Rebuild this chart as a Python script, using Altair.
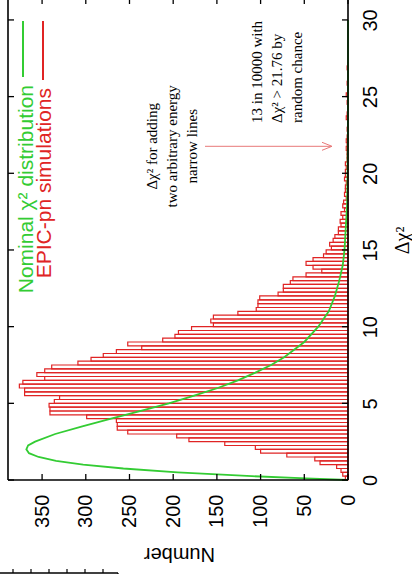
import altair as alt
import pandas as pd

# Histogram of simulated delta-chi^2 (bin width 0.25), counts
counts = [3, 6, 8, 13, 32, 38, 70, 100, 106, 141,
          182, 196, 252, 264, 264, 265, 299, 341, 341, 342,
          336, 330, 370, 370, 376, 372, 347, 356, 347, 339,
          309, 294, 280, 265, 236, 252, 212, 198, 194, 179,
          154, 157, 154, 126, 105, 103, 103, 101, 80, 74,
          74, 66, 63, 48, 30, 40, 48, 40, 28, 25,
          19, 21, 17, 15, 11, 11, 8, 9, 6, 8,
          4, 6, 5, 2, 4, 3, 3, 2, 4, 3,
          3, 2, 3, 1, 1, 1, 2, 1, 2, 1,
          0, 1, 0, 0, 2, 1, 0, 0, 1, 0,
          2, 0, 0, 1, 0, 0, 0, 1, 0]
bin_width = 0.25
bin_lo = [round(i * bin_width, 2) for i in range(len(counts))]
bin_hi = [round((i + 1) * bin_width, 2) for i in range(len(counts))]

# Nominal chi^2 distribution curve
curve_chi = [0, 0.1, 0.25, 0.5, 0.75, 1.0, 1.25, 1.5, 1.75, 2.0, 2.25, 2.5, 3.0, 3.5,
             4.0, 4.5, 5.0, 5.5, 6.0, 6.5, 7.0, 7.5, 8.0, 9.0, 10.0, 11.0, 12.0,
             13.0, 14.0, 15.0, 16.0, 17.0, 18.0, 20.0, 22.0, 25.0, 30.0]
curve_n = [0, 48, 110, 195, 257, 303, 334, 354, 365, 368, 366, 358, 335, 304,
           271, 237, 205, 176, 149, 126, 106, 88, 73, 50, 34, 22, 15,
           10, 6, 4, 3, 2, 1, 0.5, 0.2, 0, 0]

num_ticks = [0, 50, 100, 150, 200, 250, 300, 350]
chi_ticks = [0, 5, 10, 15, 20, 25, 30]
threshold = [21.76]

RED = "#e02424"
GREEN = "#33cc33"
ARROW = "#e87878"
W, H = 340, 480

hist_df = pd.DataFrame({"chi": bin_lo, "hi": bin_hi, "n": counts, "zero": [0] * len(counts)})
curve_df = pd.DataFrame({"chi": curve_chi, "n": curve_n})
nt_df = pd.DataFrame({"n": num_ticks})
ct_df = pd.DataFrame({"chi": chi_ticks})
thr_df = pd.DataFrame({"chi": threshold})
one = pd.DataFrame({"a": [0]})

xscale = alt.Scale(domain=[0, 389], reverse=True, nice=False, zero=False)
yscale = alt.Scale(domain=[0, 31.3], nice=False, zero=False)

xaxis = alt.Axis(values=num_ticks, ticks=False, domain=False, grid=False,
                 labelAngle=270, labelAlign="right", labelBaseline="middle",
                 labelPadding=14, labelFont="Liberation Sans", labelFontSize=20,
                 labelColor="black", labelFlush=False, labelOverlap=False,
                 title="Number", titleFont="Liberation Sans", titleFontSize=20,
                 titleFontWeight="normal", titleColor="black", titleAngle=180,
                 titleX=171, titleY=67, titleAlign="center", titleBaseline="alphabetic")
yaxis = alt.Axis(orient="right", values=chi_ticks, ticks=False, domain=False, grid=False,
                 labelAngle=270, labelAlign="center", labelBaseline="top",
                 labelPadding=12, labelFont="Liberation Sans", labelFontSize=20,
                 labelColor="black", labelFlush=False, labelOverlap=False,
                 title="Δχ²", titleFont="Liberation Serif", titleFontSize=20,
                 titleFontWeight="normal", titleColor="black", titleAngle=270,
                 titleX=60, titleY=240, titleAlign="center", titleBaseline="alphabetic")


def X(field):
    return alt.X(field, type="quantitative", scale=xscale, axis=xaxis, title="Number")


def Y(field):
    return alt.Y(field, type="quantitative", scale=yscale, axis=yaxis, title="Δχ²")


bars = alt.Chart(hist_df).mark_rect(fillOpacity=0, stroke=RED, strokeWidth=1.2).encode(
    x=X("n"), x2="zero:Q", y=Y("chi"), y2="hi:Q",
)

curve = alt.Chart(curve_df).mark_line(color=GREEN, strokeWidth=1.8).encode(
    x=X("n"), y=Y("chi"), order="chi:Q",
)

tick_style = dict(color="black", strokeWidth=1.3)
tb = alt.Chart(nt_df).mark_rule(**tick_style).encode(x=X("n"), y=alt.value(H), y2=alt.value(H - 6))
tt = alt.Chart(nt_df).mark_rule(**tick_style).encode(x=X("n"), y=alt.value(0), y2=alt.value(4))
tr = alt.Chart(ct_df).mark_rule(**tick_style).encode(y=Y("chi"), x=alt.value(W), x2=alt.value(W - 6))
tl = alt.Chart(ct_df).mark_rule(**tick_style).encode(y=Y("chi"), x=alt.value(0), x2=alt.value(6))

frame_style = dict(color="black", strokeWidth=1.6)
fl = alt.Chart(one).mark_rule(**frame_style).encode(x=alt.value(0), y=alt.value(0), y2=alt.value(H))
fr = alt.Chart(one).mark_rule(**frame_style).encode(x=alt.value(W), y=alt.value(0), y2=alt.value(H))
fb = alt.Chart(one).mark_rule(**frame_style).encode(y=alt.value(H), x=alt.value(0), x2=alt.value(W))

# legend (rotated)
lg_line = alt.Chart(one).mark_rule(color=GREEN, strokeWidth=2).encode(
    x=alt.value(15), y=alt.value(21), y2=alt.value(77))
lr_line = alt.Chart(one).mark_rule(color=RED, strokeWidth=2).encode(
    x=alt.value(35), y=alt.value(21), y2=alt.value(80))
lg_text = alt.Chart(one).mark_text(text="Nominal χ² distribution", angle=270, align="right",
                                   baseline="alphabetic", font="Liberation Sans", fontSize=21,
                                   color=GREEN).encode(x=alt.value(25), y=alt.value(85))
lr_text = alt.Chart(one).mark_text(text="EPIC-pn simulations", angle=270, align="right",
                                   baseline="alphabetic", font="Liberation Sans", fontSize=21,
                                   color=RED).encode(x=alt.value(43), y=alt.value(88))

# annotations
ann_style = dict(angle=270, baseline="alphabetic", font="Liberation Serif", fontSize=15, color="black")
block1 = ["Δχ² for adding", "two arbitrary energy", "narrow lines"]
block2 = ["13 in 10000 with", "Δχ² > 21.76 by", "random chance"]
ann_layers = []
for i, t in enumerate(block1):
    ann_layers.append(alt.Chart(thr_df).mark_text(text=t, align="center", **ann_style).encode(
        x=alt.value(149 + 20 * i), y=Y("chi")))
for i, t in enumerate(block2):
    ann_layers.append(alt.Chart(one).mark_text(text=t, align="left", **ann_style).encode(
        x=alt.value(254 + 20 * i), y=alt.value(123)))

arrow_line = alt.Chart(thr_df).mark_rule(color=ARROW, strokeWidth=1).encode(
    y=Y("chi"), x=alt.value(197), x2=alt.value(323))
arrow_head = alt.Chart(thr_df).mark_point(shape="M-1,-0.4L0,0L-1,0.4", filled=False,
                                          stroke=ARROW, strokeWidth=1, size=400, opacity=1).encode(
    y=Y("chi"), x=alt.value(324))

# fragment of the next panel at the bottom-left corner
frag_ticks = pd.DataFrame({"px": [5, 23, 41, 59, 77, 95]})
frag_h = alt.Chart(one).mark_rule(color="black", strokeWidth=1.3).encode(
    x=alt.value(-8), x2=alt.value(110), y=alt.value(573))
frag_v = alt.Chart(one).mark_rule(color="black", strokeWidth=1.3).encode(
    x=alt.value(110), y=alt.value(573), y2=alt.value(576))
frag_t = alt.Chart(frag_ticks).mark_rule(color="black", strokeWidth=1.2).encode(
    x=alt.X("px:Q", scale=None), y=alt.value(569), y2=alt.value(573))

chart = alt.layer(
    bars, curve, tb, tt, tr, tl, fl, fr, fb,
    lg_line, lr_line, lg_text, lr_text,
    arrow_line, arrow_head, *ann_layers,
    frag_h, frag_v, frag_t,
).properties(
    width=W, height=H,
    padding={"left": 8, "top": 0, "right": 64, "bottom": 94},
    autosize=alt.AutoSizeParams(type="none"),
    background="white",
).configure_view(strokeWidth=0)

chart.save("out.html", embed_options={"renderer": "svg", "actions": False})
